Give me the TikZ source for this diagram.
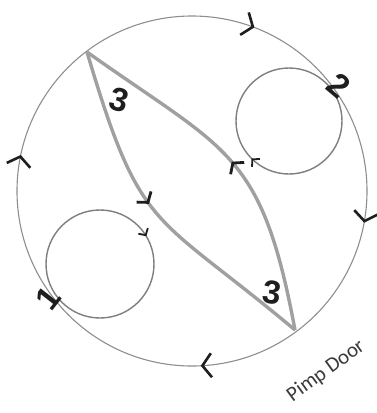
\documentclass[tikz,border=0pt]{standalone}
\usepackage{fontspec}
\setmainfont{Liberation Sans}
\newfontfamily\doorfont{Carlito}
\usetikzlibrary{arrows.meta,decorations.markings}
\definecolor{ringgray}{HTML}{8E8E8E}
\definecolor{loopgray}{HTML}{7E7E7E}
\definecolor{lensgray}{HTML}{A0A0A0}
\definecolor{inkcol}{HTML}{1E1E1E}
\definecolor{doorcol}{HTML}{3A3A3A}
\tikzset{
  bigchev/.tip={Straight Barb[length=9pt,width=24pt,line width=2.6pt,color=inkcol]},
  midchev/.tip={Straight Barb[length=7pt,width=18pt,line width=2.8pt,color=inkcol]},
  smallchev/.tip={Straight Barb[length=5pt,width=11pt,line width=1.8pt,color=inkcol]},
  ring/.style={draw=ringgray,line width=1.1pt},
  loopline/.style={draw=loopgray,line width=1.4pt},
  lens/.style={draw=lensgray,line width=3.4pt},
  num/.style={font=\fontsize{33}{33}\selectfont\bfseries,text=inkcol,inner sep=0pt},
  door/.style={font=\doorfont\fontsize{21}{21}\selectfont,text=doorcol,inner sep=0pt}
}
\begin{document}
\begin{tikzpicture}[x=1pt,y=-1pt]
\useasboundingbox (0,0) rectangle (376,413);
\coordinate (oc) at (192,191);
\coordinate (c1) at (100,264);
\coordinate (c2) at (289,121);
\coordinate (A) at (87,52);
\coordinate (B) at (295,330);
% outer circle, clockwise
\draw[ring,postaction={decorate},decoration={markings,
  mark=at position 0.029 with {\arrow{bigchev}},
  mark=at position 0.242 with {\arrow{bigchev}},
  mark=at position 0.533 with {\arrow{bigchev}},
  mark=at position 0.808 with {\arrow{bigchev}}}]
  (oc) ++(175,0) arc[start angle=0,end angle=360,radius=175];
% small loops
\draw[loopline,postaction={decorate},decoration={markings,
  mark=at position 0.914 with {\arrow{smallchev}}}]
  (c1) ++(54,0) arc[start angle=0,end angle=360,radius=54];
\draw[loopline,postaction={decorate},decoration={markings,
  mark=at position 0.375 with {\arrow{smallchev}}}]
  (c2) ++(53,0) arc[start angle=0,end angle=360,radius=53];
% lens
\draw[lens,postaction={decorate},decoration={markings,
  mark=at position 0.46 with {\arrow{midchev}}}]
  (A) .. controls (141.4,235.6) and (152.6,210.5) .. (B);
\draw[lens,postaction={decorate},decoration={markings,
  mark=at position 0.5 with {\arrow{midchev}}}]
  (B) .. controls (261.5,150.2) and (227.3,151.8) .. (A);
% labels
\node[num,rotate=-15] (n3a) at (119,100) {3};
\node[num,rotate=-8] (n3b) at (272,293) {3};
\node[num,rotate=-40] (n2) at (339,86) {2};
\node[num,rotate=52] (n1) at (48,298) {1};
\node[door,rotate=36] (door) at (326,371) {Pimp Door};
\end{tikzpicture}
\end{document}
